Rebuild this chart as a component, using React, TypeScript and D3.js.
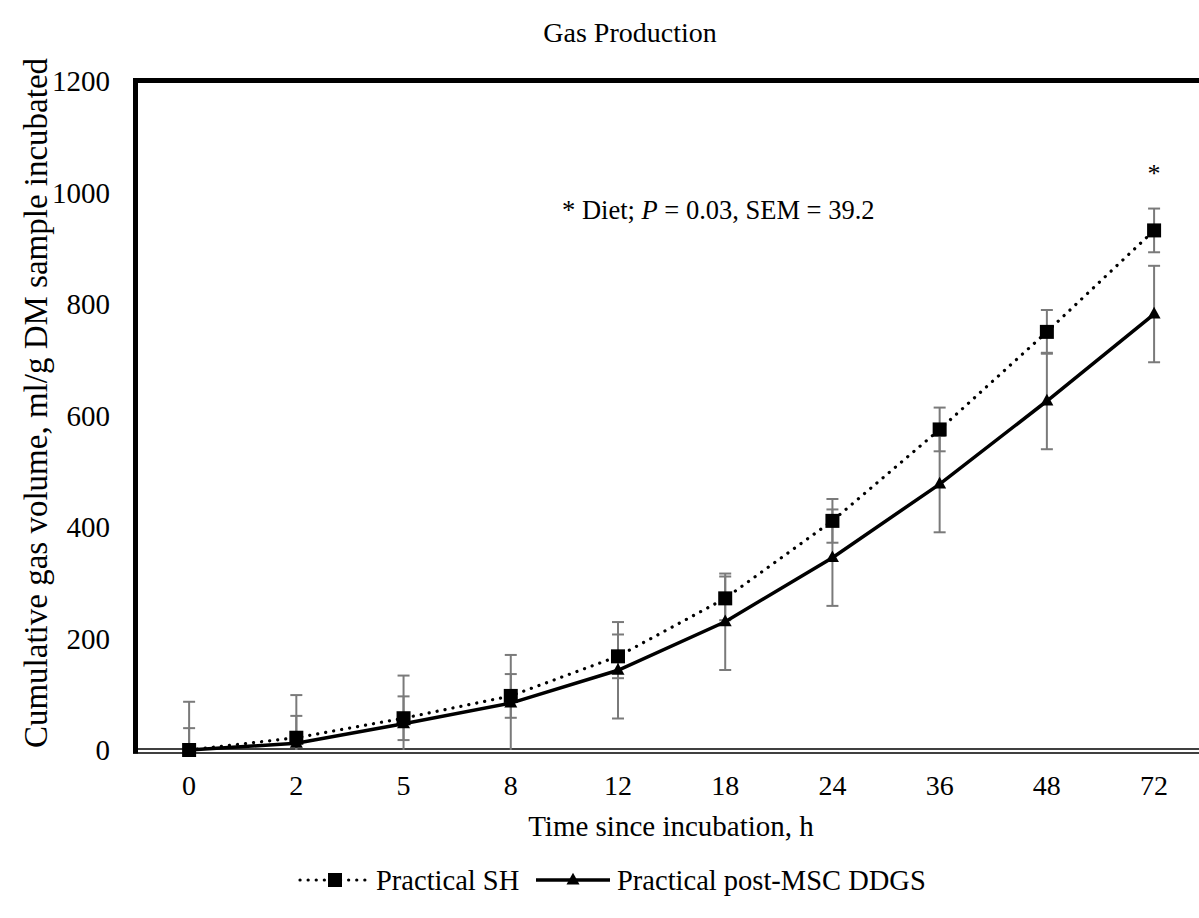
import React from "react";
import * as d3 from "d3";

const categories = ["0", "2", "5", "8", "12", "18", "24", "36", "48", "72"];
const seriesSH = [0, 22, 57, 97, 168, 272, 411, 575, 750, 932];
const seriesDDGS = [0, 12, 47, 84, 143, 230, 345, 477, 626, 782];
const errSH = [39.2, 39.2, 39.2, 39.2, 39.2, 39.2, 39.2, 39.2, 39.2, 39.2];
const errDDGS = [86.5, 86.5, 86.5, 86.5, 86.5, 86.5, 86.5, 86.5, 86.5, 86.5];
const yTicks = [0, 200, 400, 600, 800, 1000, 1200];
const seriesNames = ["Practical SH", "Practical post-MSC DDGS"];

const W = 1199;
const H = 918;
const FONT = "'Liberation Serif', 'Times New Roman', serif";

export default function App() {
  const x = d3.scaleBand<string>().domain(categories).range([135.5, 1207.7]).padding(0);
  const cx = (c: string) => (x(c) as number) + x.bandwidth() / 2;
  const y = d3.scaleLinear().domain([0, 1200]).range([750, 81]);

  const line = d3
    .line<number>()
    .x((_, i) => cx(categories[i]))
    .y((d) => y(d));

  const triPath = (s: number) => {
    const h = s * 0.9;
    return `M0,${-h * 0.62} L${s / 2},${h * 0.38} L${-s / 2},${h * 0.38} Z`;
  };

  const errorBars = (vals: number[], errs: number[], key: string) =>
    vals.map((v, i) => {
      const xc = cx(categories[i]);
      const hi = Math.min(1200, v + errs[i]);
      const lo = Math.max(0, v - errs[i]);
      const capW = 6;
      return (
        <g key={key + i} stroke="#7a7a7a" strokeWidth={2}>
          <line x1={xc} x2={xc} y1={y(hi)} y2={y(lo)} />
          {v + errs[i] <= 1200 && <line x1={xc - capW} x2={xc + capW} y1={y(hi)} y2={y(hi)} />}
          {v - errs[i] >= 0 && <line x1={xc - capW} x2={xc + capW} y1={y(lo)} y2={y(lo)} />}
        </g>
      );
    });

  const legendY = 880;

  return (
    <div style={{ position: "absolute", left: 0, top: 0 }}>
      <svg width={W} height={H} style={{ display: "block", background: "#fff" }} fontFamily={FONT}>
        {/* title */}
        <text x={630} y={42} textAnchor="middle" fontSize={28}>
          Gas Production
        </text>

        {/* frame */}
        <line x1={133} x2={W} y1={80.5} y2={80.5} stroke="#000" strokeWidth={5} />
        <line x1={135.5} x2={135.5} y1={78} y2={753.5} stroke="#000" strokeWidth={5} />
        <line x1={133} x2={W} y1={749} y2={749} stroke="#000" strokeWidth={1.6} />
        <line x1={133} x2={W} y1={753} y2={753} stroke="#000" strokeWidth={1.6} />

        {/* y ticks labels */}
        {yTicks.map((t) => (
          <text key={t} x={110} y={y(t) + 10} textAnchor="end" fontSize={29}>
            {t}
          </text>
        ))}

        {/* x ticks labels */}
        {categories.map((c) => (
          <text key={c} x={cx(c)} y={795} textAnchor="middle" fontSize={28}>
            {c}
          </text>
        ))}

        {/* axis titles */}
        <text x={671} y={836} textAnchor="middle" fontSize={29}>
          Time since incubation, h
        </text>
        <text
          transform={`translate(47, 403) rotate(-90)`}
          textAnchor="middle"
          fontSize={33}
        >
          Cumulative gas volume, ml/g DM sample incubated
        </text>

        {/* annotation */}
        <text x={562} y={219} fontSize={26.5}>
          * Diet; <tspan fontStyle="italic">P</tspan> = 0.03, SEM = 39.2
        </text>
        <text x={cx("72")} y={182} textAnchor="middle" fontSize={26}>
          *
        </text>

        {/* error bars */}
        {errorBars(seriesSH, errSH, "esh")}
        {errorBars(seriesDDGS, errDDGS, "edd")}

        {/* lines */}
        <path
          d={line(seriesSH) || ""}
          fill="none"
          stroke="#000"
          strokeWidth={3.2}
          strokeLinecap="round"
          strokeDasharray="0.1 8"
        />
        <path d={line(seriesDDGS) || ""} fill="none" stroke="#000" strokeWidth={3.5} />

        {/* markers */}
        {seriesSH.map((v, i) => (
          <rect key={"sq" + i} x={cx(categories[i]) - 7} y={y(v) - 7} width={14} height={14} fill="#000" />
        ))}
        {seriesDDGS.map((v, i) => (
          <path
            key={"tr" + i}
            d={triPath(13)}
            transform={`translate(${cx(categories[i])},${y(v)})`}
            fill="#000"
          />
        ))}

        {/* legend */}
        <g>
          <line
            x1={300}
            x2={370}
            y1={legendY}
            y2={legendY}
            stroke="#000"
            strokeWidth={3.2}
            strokeLinecap="round"
            strokeDasharray="0.1 8"
          />
          <rect x={335 - 7} y={legendY - 7} width={14} height={14} fill="#000" />
          <text x={376} y={legendY + 10} fontSize={28.5}>
            {seriesNames[0]}
          </text>
          <line x1={536} x2={610} y1={legendY} y2={legendY} stroke="#000" strokeWidth={3.5} />
          <path d={triPath(13)} transform={`translate(573,${legendY})`} fill="#000" />
          <text x={617} y={legendY + 10} fontSize={28.5}>
            {seriesNames[1]}
          </text>
        </g>
      </svg>
    </div>
  );
}
